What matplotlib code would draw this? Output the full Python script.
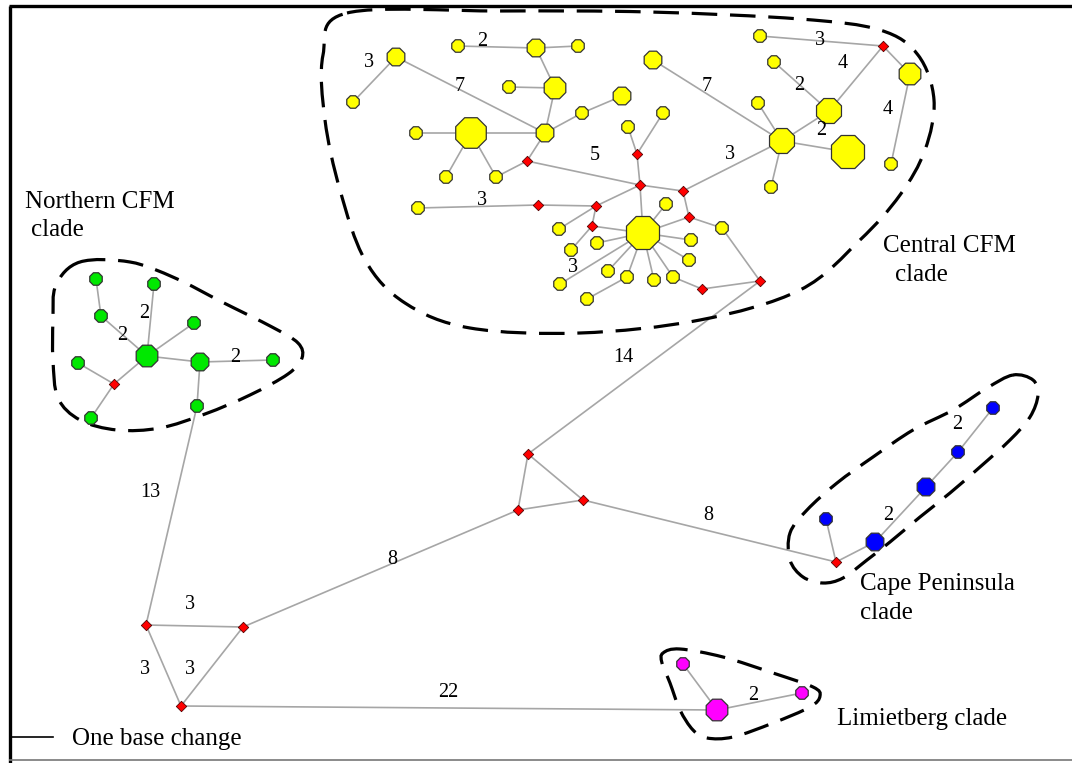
import numpy as np
import matplotlib
matplotlib.use("Agg")
import matplotlib.pyplot as plt
from matplotlib.path import Path
from matplotlib.patches import PathPatch

plt.rcParams['font.family'] = ['Liberation Serif', 'DejaVu Serif']

# haplotypes: name, x, y (drawing units), clade, sample count
node_names = ['c1', 'c2', 'c3', 'c4', 'c5', 'c6', 'c7', 'c8', 'c9', 'c10',
              'c11', 'c12', 'c13', 'c14', 'c15', 'c16', 'c17', 'c18', 'c19', 'c20',
              'c21', 'c22', 'c23', 'c24', 'c25', 'c26', 'c27', 'c28', 'c29', 'c30',
              'c31', 'c32', 'c33', 'c34', 'c35', 'c36', 'c37', 'c38', 'c39', 'c40', 'cc',
              'n1', 'n2', 'n3', 'n4', 'n5', 'n6', 'n7', 'n8', 'n9', 'n10',
              'b1', 'b2', 'b3', 'b4', 'b5',
              'l1', 'l2', 'l3']
node_x = [396, 353, 458, 536, 578, 555, 509, 622, 582, 545,
          471, 416, 446, 496, 628, 418, 760, 653, 774, 910,
          758, 663, 829, 782, 848, 891, 771, 666, 559, 571,
          597, 722, 691, 689, 673, 654, 627, 608, 560, 587, 643,
          96, 154, 101, 194, 147, 200, 273, 78, 91, 197,
          993, 958, 926, 875, 826,
          717, 683, 802]
node_y = [57, 102, 46, 48, 46, 88, 87, 96, 113, 133,
          133, 133, 177, 177, 127, 208, 36, 60, 62, 74,
          103, 113, 111, 141, 152, 164, 187, 204, 229, 250,
          243, 228, 240, 260, 277, 280, 277, 271, 284, 299, 233,
          279, 284, 316, 323, 356, 362, 360, 363, 418, 406,
          408, 452, 487, 542, 519,
          710, 664, 693]
node_clade = ['central'] * 41 + ['northern'] * 10 + ['cape'] * 5 + ['limietberg'] * 3
node_count = [2, 1, 1, 2, 1, 3, 1, 2, 1, 2,
              6, 1, 1, 1, 1, 1, 1, 2, 1, 3,
              1, 1, 4, 4, 7, 1, 1, 1, 1, 1,
              1, 1, 1, 1, 1, 1, 1, 1, 1, 1, 7,
              1, 1, 1, 1, 3, 2, 1, 1, 1, 1,
              1, 1, 2, 2, 1,
              3, 1, 1]

# missing (unsampled) haplotypes
missing_names = ['m1', 'm2', 'm3', 'm4', 'm5', 'm6', 'm7', 'm8', 'm9', 'm10',
                 'm11', 'm12', 'm13', 'm14', 'm15', 'm16', 'm17', 'm18', 'm19']
missing_x = [527, 637, 640, 538, 596, 883, 683, 689, 592, 702,
             760, 528, 114, 146, 243, 181, 518, 583, 836]
missing_y = [161, 154, 185, 205, 206, 46, 191, 217, 226, 289,
             281, 454, 384, 625, 627, 706, 510, 500, 562]

edges = [('c1', 'c2'), ('c1', 'c10'), ('c3', 'c4'), ('c4', 'c5'), ('c4', 'c6'),
         ('c7', 'c6'), ('c6', 'c10'), ('c10', 'c9'), ('c9', 'c8'), ('c12', 'c11'),
         ('c11', 'c10'), ('c11', 'c13'), ('c11', 'c14'), ('c14', 'm1'), ('m1', 'c10'),
         ('m1', 'm3'), ('c15', 'm2'), ('m2', 'c22'), ('m2', 'm3'), ('c16', 'm4'),
         ('m4', 'm5'), ('m5', 'm3'), ('m5', 'c29'), ('m5', 'm9'), ('m9', 'c30'),
         ('m9', 'cc'), ('m3', 'cc'), ('m3', 'm7'), ('m7', 'c24'), ('m7', 'm8'),
         ('c28', 'cc'), ('m8', 'cc'), ('m8', 'c32'), ('c32', 'm11'), ('cc', 'c33'),
         ('cc', 'c34'), ('cc', 'c35'), ('cc', 'c36'), ('cc', 'c37'), ('cc', 'c38'),
         ('cc', 'c39'), ('cc', 'c31'), ('c40', 'c37'), ('c35', 'm10'), ('m10', 'm11'),
         ('m11', 'm12'), ('c18', 'c24'), ('c21', 'c24'), ('c24', 'c23'), ('c24', 'c25'),
         ('c24', 'c27'), ('c19', 'c23'), ('c23', 'm6'), ('c17', 'm6'), ('m6', 'c20'),
         ('c20', 'c26'),
         ('n1', 'n3'), ('n3', 'n5'), ('n2', 'n5'), ('n4', 'n5'), ('n5', 'n6'),
         ('n6', 'n7'), ('n8', 'm13'), ('m13', 'n9'), ('m13', 'n5'), ('n6', 'n10'),
         ('n10', 'm14'),
         ('m14', 'm15'), ('m14', 'm16'), ('m15', 'm16'), ('m15', 'm17'), ('m17', 'm12'),
         ('m17', 'm18'), ('m12', 'm18'), ('m18', 'm19'), ('m16', 'l1'),
         ('b1', 'b2'), ('b2', 'b3'), ('b3', 'b4'), ('b4', 'm19'), ('b5', 'm19'),
         ('l1', 'l2'), ('l1', 'l3')]

# number of base changes on longer branches
step_labels = ['3', '7', '2', '5', '3', '7', '3', '4', '2', '2', '4', '3', '3',
               '2', '2', '2', '13', '3', '3', '3', '8', '14', '8', '22',
               '2', '2', '2']
step_x = [369, 460, 482, 595, 482, 707, 820, 843, 799, 821, 888, 730, 573,
          144, 122, 235, 150, 190, 145, 190, 392, 623, 708, 448,
          957, 888, 753]
step_y = [60, 84, 39, 153, 198, 84, 38, 61, 83, 128, 107, 152, 265,
          311, 333, 355, 490, 602, 667, 667, 557, 355, 513, 690,
          422, 513, 693]

# dashed outlines around each clade
hull_central = [(347, 13), (500, 11), (650, 12), (800, 19), (880, 30), (918, 55),
                (934, 100), (925, 150), (900, 195), (860, 240), (800, 290),
                (700, 320), (580, 333), (470, 328), (405, 303), (365, 260),
                (340, 190), (325, 120), (323, 55)]
hull_northern = [(80, 262), (130, 262), (175, 278), (222, 302), (272, 327),
                 (298, 343), (302, 358), (288, 374), (250, 395), (205, 414),
                 (160, 428), (117, 430), (80, 420), (58, 398), (53, 360),
                 (53, 320), (56, 285)]
hull_cape = [(1013, 375), (1033, 380), (1038, 395), (1030, 417), (1010, 440),
             (980, 467), (950, 493), (920, 517), (890, 542), (867, 560),
             (843, 578), (823, 583), (803, 577), (790, 560), (790, 533),
             (807, 510), (837, 483), (873, 457), (913, 430), (953, 410),
             (987, 388)]
hull_limietberg = [(663, 653), (680, 649), (723, 657), (773, 673), (813, 687),
                   (820, 696), (810, 707), (773, 723), (733, 737), (707, 738),
                   (693, 730), (680, 710), (670, 683), (662, 663)]

clade_colors = {'central': '#ffff00', 'northern': '#00e800',
                'cape': '#0000ff', 'limietberg': '#ff00ff'}


def smooth_closed_path(points):
    # closed Catmull-Rom outline expressed as cubic Bezier segments
    p = np.array(points, dtype=float)
    n = len(p)
    verts = [p[0]]
    codes = [Path.MOVETO]
    for i in range(n):
        p0, p1, p2, p3 = p[i - 1], p[i], p[(i + 1) % n], p[(i + 2) % n]
        verts += [p1 + (p2 - p0) / 6.0, p2 - (p3 - p1) / 6.0, p2]
        codes += [Path.CURVE4] * 3
    return Path(verts, codes)


fig = plt.figure(figsize=(10.72, 7.63), dpi=100)
ax = fig.add_axes([0, 0, 1, 1])
ax.set_xlim(0, 1072)
ax.set_ylim(763, 0)
ax.axis('off')

pos = {}
for name, x, y in zip(node_names, node_x, node_y):
    pos[name] = (x, y)
for name, x, y in zip(missing_names, missing_x, missing_y):
    pos[name] = (x, y)

for a, b in edges:
    ax.plot([pos[a][0], pos[b][0]], [pos[a][1], pos[b][1]],
            color='#a6a6a6', lw=1.2, zorder=1, solid_capstyle='butt')

for hull in [hull_central, hull_northern, hull_cape, hull_limietberg]:
    ax.add_patch(PathPatch(smooth_closed_path(hull), facecolor='none',
                           edgecolor='black', lw=2.3, linestyle=(0, (8, 4)),
                           zorder=2))

# marker area grows with the number of samples
diam_px = 13.5 * np.sqrt(np.array(node_count, dtype=float))
sizes = (diam_px * 72 / 100) ** 2
colors = [clade_colors[c] for c in node_clade]
ax.scatter(node_x, node_y, s=sizes, c=colors, marker='8',
           edgecolors='#333333', linewidths=0.9, zorder=4)
ax.scatter(missing_x, missing_y, s=28, c='#ff0000', marker='D',
           edgecolors='#550000', linewidths=0.6, zorder=4)

for t, x, y in zip(step_labels, step_x, step_y):
    ax.text(x, y, t, fontsize=14.5, ha='center', va='center_baseline', zorder=5)

clade_fs = 18
ax.text(25, 208, 'Northern CFM', fontsize=clade_fs, ha='left', va='baseline')
ax.text(31, 236, 'clade', fontsize=clade_fs, ha='left', va='baseline')
ax.text(883, 252, 'Central CFM', fontsize=clade_fs, ha='left', va='baseline')
ax.text(895, 281, 'clade', fontsize=clade_fs, ha='left', va='baseline')
ax.text(860, 590, 'Cape Peninsula', fontsize=clade_fs, ha='left', va='baseline')
ax.text(860, 619, 'clade', fontsize=clade_fs, ha='left', va='baseline')
ax.text(837, 725, 'Limietberg clade', fontsize=clade_fs, ha='left', va='baseline')

# scale bar
ax.plot([11, 53], [737, 737], color='black', lw=1.2)
ax.text(72, 745, 'One base change', fontsize=clade_fs, ha='left', va='baseline')

# frame
ax.plot([10, 10], [6, 763], color='black', lw=2.4, solid_capstyle='butt')
ax.plot([9, 1072], [6, 6], color='black', lw=2.4, solid_capstyle='butt')
ax.plot([9, 1072], [760, 760], color='#777777', lw=1.2, solid_capstyle='butt')

fig.savefig('out.png', dpi=100, facecolor='white')
